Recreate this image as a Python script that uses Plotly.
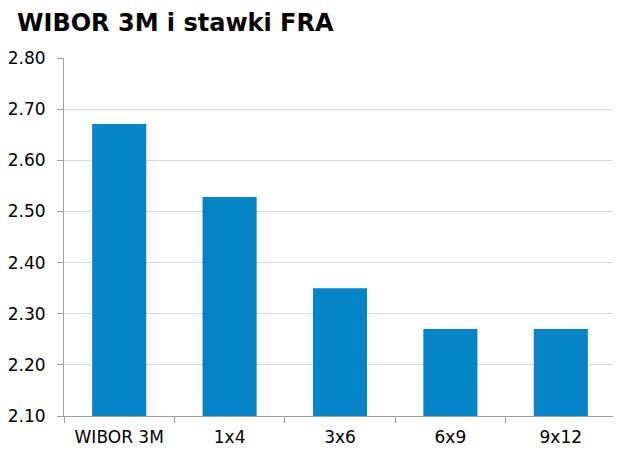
import plotly.graph_objects as go

categories = ["WIBOR 3M", "1x4", "3x6", "6x9", "9x12"]
values = [2.671, 2.528, 2.35, 2.27, 2.27]
y_ticks = [2.10, 2.20, 2.30, 2.40, 2.50, 2.60, 2.70, 2.80]
y_tick_labels = ["2.10", "2.20", "2.30", "2.40", "2.50", "2.60", "2.70", "2.80"]

# page body has an 8px default margin; size the figure so it fits the 621x455 window
W, H = 613, 447

fig = go.Figure(go.Bar(
    x=categories, y=values,
    marker=dict(color="#0585C8", line=dict(width=0)),
    width=0.49,
))

fig.update_layout(
    width=W, height=H,
    margin=dict(l=56, r=5, t=50, b=39, autoexpand=False),
    paper_bgcolor="white", plot_bgcolor="white",
    font=dict(family="DejaVu Sans", size=17, color="#000000"),
    title=dict(text="<b>WIBOR 3M i stawki FRA</b>", x=9/W, xanchor="left",
               y=1 - 15/H, yanchor="middle", font=dict(size=24, color="#000000")),
    showlegend=False,
    bargap=0.51,
)
fig.update_xaxes(
    type="category", tickson="boundaries", ticks="outside", ticklen=6,
    tickcolor="#A0A0A0", showline=True, linecolor="#A0A0A0", linewidth=1,
    showgrid=False, automargin=False, ticklabelstandoff=6,
)
fig.update_yaxes(
    range=[2.10, 2.80], tickvals=y_ticks, ticktext=y_tick_labels,
    ticks="outside", ticklen=6, tickcolor="#A0A0A0",
    showline=True, linecolor="#A0A0A0", linewidth=1,
    showgrid=True, gridcolor="#D9D9D9", gridwidth=1, zeroline=False,
    automargin=False, ticklabelstandoff=8,
)

fig.write_html("out.html")
